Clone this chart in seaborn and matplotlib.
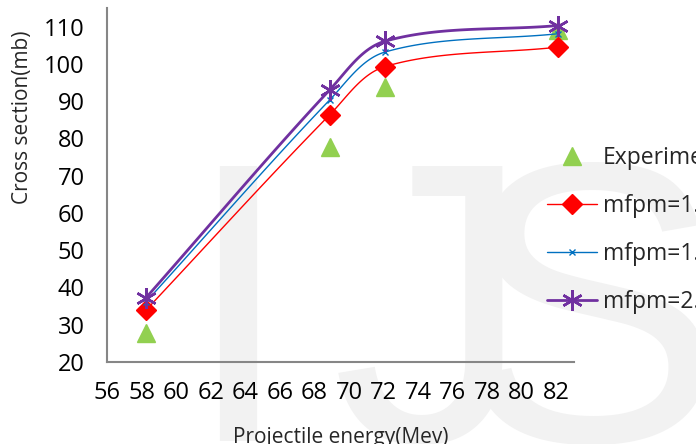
import numpy as np
import pandas as pd
import matplotlib
matplotlib.use("Agg")
import matplotlib.pyplot as plt
import seaborn as sns
from matplotlib.lines import Line2D
from matplotlib.ticker import MultipleLocator

# ---------------- data ----------------
energy = [58.25, 68.9, 72.1, 82.1]
experimental = [27.9, 77.8, 93.7, 109.1]
mfpm_1 = [33.9, 86.4, 99.3, 104.5]
mfpm_1_5 = [36.1, 90.4, 103.2, 108.1]
mfpm_2 = [37.2, 93.1, 106.1, 110.3]
series_labels = ["Experimental", "mfpm=1.0", "mfpm=1.5", "mfpm=2.0"]
x_ticks = list(range(56, 83, 2))
y_ticks = list(range(20, 111, 10))
watermark = ["I", "J", "S"]

# ---------------- style ----------------
sns.set_style("white")
plt.rcParams["font.family"] = ["Open Sans", "DejaVu Sans"]

W, H, DPI = 696, 444, 100
fig = plt.figure(figsize=(W / DPI, H / DPI), dpi=DPI)
fig.patch.set_facecolor("white")

# watermark (behind everything)
wm_kw = dict(fontsize=288, family="Liberation Sans", color="#f2f2f2",
             va="baseline", zorder=-5)
fig.text(237.5 / W, 1 - 441 / H, watermark[0], ha="center", **wm_kw)
fig.text(532 / W, 1 - 441 / H, watermark[1], ha="right", **wm_kw)
fig.text(457 / W, 1 - 441 / H, watermark[2], ha="left", **wm_kw)

ax = fig.add_axes([107 / W, 1 - 362 / H, (573.6 - 107) / W, (362 - 8) / H])
ax.set_facecolor("none")
ax.set_xlim(56, 83)
ax.set_ylim(20, 115)

XPX = (573.6 - 107) / 27.0
YPX = (362 - 8) / 95.0


def smooth(xs, ys, n=40):
    """Excel-like smoothed line (bezier through the points)."""
    P = np.column_stack([np.asarray(xs) * XPX, np.asarray(ys) * YPX])
    m = len(P)
    out = []
    for i in range(m - 1):
        p0 = P[max(i - 1, 0)]
        p1 = P[i]
        p2 = P[i + 1]
        p3 = P[min(i + 2, m - 1)]
        seg = np.linalg.norm(p2 - p1)
        t1 = p2 - p0
        t2 = p3 - p1
        t1 = t1 / np.linalg.norm(t1)
        t2 = t2 / np.linalg.norm(t2)
        c1 = p1 + t1 * seg / 3.0
        c2 = p2 - t2 * seg / 3.0
        t = np.linspace(0, 1, n)[:, None]
        b = ((1 - t) ** 3) * p1 + 3 * ((1 - t) ** 2) * t * c1 + 3 * (1 - t) * t ** 2 * c2 + t ** 3 * p2
        out.append(b if i == 0 else b[1:])
    out = np.vstack(out)
    return out[:, 0] / XPX, out[:, 1] / YPX


red = "#FF0000"
blue = "#0070C0"
purple = "#7030A0"
green = "#92D050"

# smoothed lines
for ys, col, lw, z in [(mfpm_1, red, 1.0, 3), (mfpm_1_5, blue, 1.0, 4), (mfpm_2, purple, 2.0, 5)]:
    sx, sy = smooth(energy, ys)
    curve = pd.DataFrame({"x": sx, "y": sy})
    sns.lineplot(data=curve, x="x", y="y", ax=ax, color=col, lw=lw, sort=False,
                 estimator=None, zorder=z)

# markers
df = pd.DataFrame({"x": energy, "exp": experimental, "m1": mfpm_1,
                   "m15": mfpm_1_5, "m2": mfpm_2})
ax.plot(df["x"], df["exp"], ls="none", marker="^", ms=13, color=green, mec=green, zorder=2)
ax.plot(df["x"], df["m1"], ls="none", marker="D", ms=10, color=red, mec=red, zorder=6)
ax.plot(df["x"], df["m15"], ls="none", marker="x", ms=5, mew=1.0, color=blue, zorder=7)
ax.plot(df["x"], df["m2"], ls="none", marker=(6, 2, 0), ms=15, mew=1.8, color=purple, zorder=8)

# axes styling
for s in ["top", "right"]:
    ax.spines[s].set_visible(False)
for s in ["left", "bottom"]:
    ax.spines[s].set_color("#868686")
    ax.spines[s].set_linewidth(1.5)

ax.set_xticks(x_ticks)
ax.set_yticks(y_ticks)
ax.xaxis.set_minor_locator(MultipleLocator(0.4))
ax.yaxis.set_minor_locator(MultipleLocator(2))
ax.tick_params(axis="both", which="major", direction="inout", length=12, width=1.5,
               color="#868686", labelsize=17, labelcolor="black")
ax.tick_params(axis="both", which="minor", direction="out", length=5, width=1.5,
               color="#868686")
ax.tick_params(axis="y", which="major", pad=10)
ax.tick_params(axis="x", which="major", pad=8)

ax.set_xlabel("Projectile energy(Mev)", fontsize=15)
ax.set_ylabel("Cross section(mb)", fontsize=15)
ax.xaxis.set_label_coords(0.5, -0.185)
ax.yaxis.set_label_coords(-0.159, 0.69)

# legend
handles = [
    Line2D([], [], ls="none", marker="^", ms=13, color=green),
    Line2D([], [], color=red, lw=1.0, marker="D", ms=10),
    Line2D([], [], color=blue, lw=1.0, marker="x", ms=5, mew=1.0),
    Line2D([], [], color=purple, lw=2.0, marker=(6, 2, 0), ms=15, mew=1.8),
]
leg = fig.legend(handles, series_labels, loc="upper left",
                 bbox_to_anchor=(547 / W, 1 - 146 / H), frameon=False,
                 fontsize=16.5, handlelength=2.2, handletextpad=0.25,
                 labelspacing=1.05, borderpad=0, borderaxespad=0)

fig.savefig("out.png", dpi=DPI)
